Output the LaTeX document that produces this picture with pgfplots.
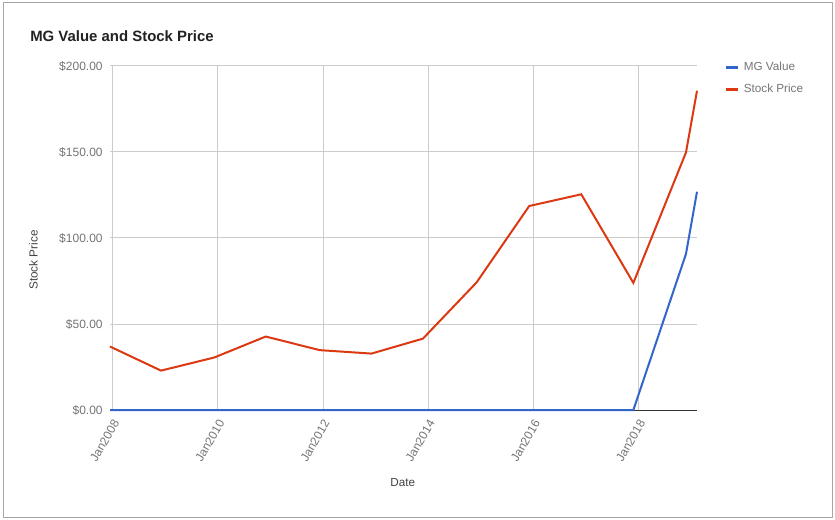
\documentclass[border=0pt]{standalone}
\usepackage{pgfplots}
\pgfplotsset{compat=1.18}
\usepackage{fontspec}
\setmainfont{Liberation Sans}
\definecolor{gblue}{HTML}{3366CC}
\definecolor{gred}{HTML}{DC3912}
\definecolor{ggrid}{HTML}{CCCCCC}
\definecolor{glab}{HTML}{757575}
\definecolor{gtxt}{HTML}{222222}
\begin{document}
\begin{tikzpicture}
\path[fill=white] (0pt,0pt) rectangle (626.25pt,-390pt);
\draw[color=black!35, line width=0.75pt] (2.25pt,-2.25pt) rectangle (624pt,-387.75pt);
\node[anchor=base west, font=\fontsize{11.2}{13}\selectfont\bfseries, text=gtxt, inner sep=0pt] at (22.5pt,-31.5pt) {MG Value and Stock Price};
\node[rotate=90, anchor=center, font=\fontsize{8.8}{10}\selectfont, text=gtxt!85, inner sep=0pt] at (25pt,-195pt) {Stock Price};
\node[anchor=center, font=\fontsize{8.8}{10}\selectfont, text=gtxt!85, inner sep=0pt] at (302pt,-362.25pt) {Date};
\begin{axis}[
  at={(82.5pt,-307.5pt)}, anchor=south west,
  scale only axis, width=440.25pt, height=258pt,
  xmin=2007.95, xmax=2019.11, ymin=0, ymax=200,
  xtick={2008,2010,2012,2014,2016,2018},
  xticklabels={Jan2008,Jan2010,Jan2012,Jan2014,Jan2016,Jan2018},
  ytick={0,50,100,150,200},
  yticklabels={\$0.00,\$50.00,\$100.00,\$150.00,\$200.00},
  grid=major, major grid style={color=ggrid, line width=0.75pt},
  major tick length=0pt,
  axis lines*=left,
  x axis line style={draw=black!80, line width=0.75pt, -},
  y axis line style={draw=none},
  tick label style={font=\fontsize{9}{10}\selectfont, text=glab},
  x tick label style={rotate=60, anchor=east, xshift=-2.2pt, yshift=-6.3pt},
  y tick label style={xshift=-2pt},
  clip=false,
  legend style={draw=none, fill=none, at={(1,1)}, anchor=north west, xshift=17.25pt, yshift=7pt,
    font=\fontsize{8.8}{10}\selectfont, text=glab, row sep=4.5pt},
  legend cell align=left,
  legend image code/.code={\draw[line width=2.25pt] (0pt,0pt) -- (9pt,0pt); \path[draw=none] (0pt,0pt) -- (11.5pt,0pt);},
]
\addplot[color=gblue, line width=1.5pt] coordinates {
(2007.95,0) (2008.92,0) (2009.93,0) (2010.91,0) (2011.94,0) (2012.92,0)
(2013.90,0) (2014.92,0) (2015.92,0) (2016.91,0) (2017.90,0)
(2018.90,90.7) (2019.11,126.9)};
\addlegendentry{MG Value}
\addplot[color=gred, line width=1.5pt] coordinates {
(2007.95,36.9) (2008.92,22.9) (2009.93,30.5) (2010.91,42.7) (2011.94,34.8)
(2012.92,32.8) (2013.90,41.5) (2014.92,74.2) (2015.92,118.6) (2016.91,125.4)
(2017.90,73.9) (2018.90,149.7) (2019.11,185.6)};
\addlegendentry{Stock Price}
\end{axis}
\end{tikzpicture}
\end{document}
